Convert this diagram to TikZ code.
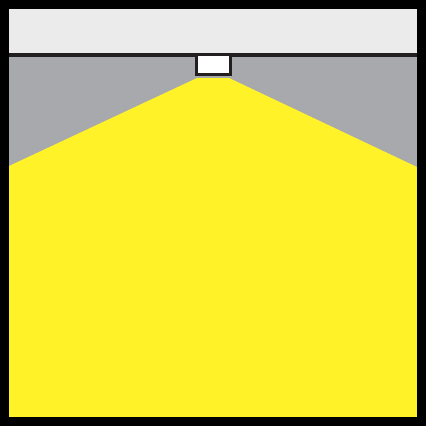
\documentclass[tikz,border=0pt]{standalone}
\definecolor{ceiling}{RGB}{235,235,235}
\definecolor{wallgray}{RGB}{167,169,172}
\definecolor{lightyellow}{RGB}{255,242,40}
\definecolor{darkline}{RGB}{35,31,32}
\begin{document}
\begin{tikzpicture}[x=1pt,y=-1pt]
\useasboundingbox (0,0) rectangle (426,426);
% wall
\fill[wallgray] (9,9) rectangle (417,417);
% ceiling band
\fill[ceiling] (9,9) rectangle (417,53);
% light cone
\fill[lightyellow] (197,78) -- (229,78) -- (417,167) -- (417,417) -- (9,417) -- (9,166) -- cycle;
% ceiling line
\draw[darkline, line width=3.5pt] (9,54.75) -- (417,54.75);
% luminaire
\draw[darkline, line width=3pt, fill=white] (196.5,54.5) rectangle (230.5,74.8);
% frame
\draw[black, line width=9pt] (4.5,4.5) rectangle (421.5,421.5);
\end{tikzpicture}
\end{document}
